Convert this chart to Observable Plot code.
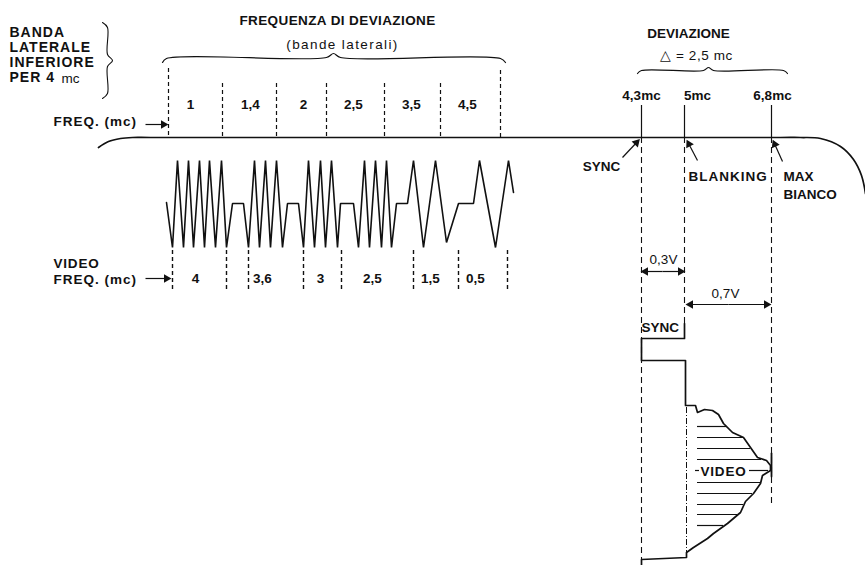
<!DOCTYPE html>
<html>
<head>
<meta charset="utf-8">
<script src="https://cdn.jsdelivr.net/npm/d3@7"></script>
<script src="https://cdn.jsdelivr.net/npm/@observablehq/plot@0.6"></script>
<style>
  html, body { margin: 0; padding: 0; background: #fff; }
  svg { display: block; }
</style>
</head>
<body>
<div id="chart"></div>
<script>
// ---------- data (diagram units: picture pixels, y downward) ----------
const upperFreqLabels = ["1", "1,4", "2", "2,5", "3,5", "4,5"];
const upperFreqLabelX = [190, 250, 303, 353, 411, 467];
const upperDashX = [168, 222, 276, 326, 384, 440, 500];
const upperDashTop = [68, 83, 83, 83, 83, 83, 70];

const videoFreqLabels = ["4", "3,6", "3", "2,5", "1,5", "0,5"];
const videoFreqLabelX = [195, 262, 320, 372, 430, 475];
const lowerDashX = [172, 226, 248, 303, 341, 413, 458, 507];

// modulated waveform vertices [x, y]
const waveform = [
  [166,202],[172,247],[177,160],[183,247],[188,160],[193,247],[199,160],[204,247],[209,160],[215,247],[221,160],[226,247],
  [232,203],[243,203],
  [248,247],[254,160],[259,247],[265,160],[270,247],[276,160],[282,247],
  [287,203],[298,203],
  [303,247],[308,160],[314,247],[320,160],[325,247],[331,160],[337,247],
  [340,203],[353,203],
  [358,247],[364,160],[369,247],[375,160],[381,247],[386,160],[391,247],
  [396,203],[407,203],
  [413,160],[423,247],[435,160],[446,242],
  [458,203],[473,203],
  [479,160],[495,247],[508,160],[513,192]
];

// carrier baseline with curved ends
const baseline = [[98,147],[108,141],[120,138],[132,137],[150,137],[780,137],[800,137],[820,138],[840,146],[853,159],[861,175],[865,193]];

// deviation frequencies (mc) and their positions
const devLabels = ["4,3mc", "5mc", "6,8mc"];
const devLabelX = [641, 697, 772];
const devLineX = [641, 684, 771];
const devDashBottom = [559, 323, 505];

// composite video signal outline
const signal = [
  [684,323],[684,338],[641,338],[641,360],[685,360],[685,405],[695,405],[697,412],[704,409],[712,410],[718,414],
  [723,423],[732,432],[743,437],[750,447],[757,457],[766,460],[770,465],
  [770,470],[762,475],[760,483],[753,493],[745,501],[740,512],[727,523],[713,533],[707,538],[693,547],[686,552],
  [686,557],[641,559],[641,565]
];
const whiteTick = [[771,453],[771,476]];
const hatchY = [426, 437, 448, 459, 482, 493, 504, 514, 525];
const hatchEnd = [727, 744, 750, 761, 760, 752, 743, 737, 723];

// braces
const braceFreq = [[162,62],[166,58],[326,57],[333,53],[340,57],[500,58],[505,62]];
const braceDev = [[637,73],[641,70],[703,70],[708,67],[713,70],[783,70],[787,73]];
const braceLeft = [[102,22],[107,27],[107,54],[112,60],[107,66],[107,93],[102,98]];

// arrows
const arrows = [
  {x1:145, y1:124, x2:166, y2:124},
  {x1:145, y1:278, x2:169, y2:278},
  {x1:622, y1:157, x2:638, y2:140},
  {x1:697, y1:160, x2:687, y2:141},
  {x1:782, y1:161, x2:773, y2:141},
  {x1:662, y1:271, x2:642, y2:271},
  {x1:662, y1:271, x2:683, y2:271},
  {x1:728, y1:304, x2:687, y2:304},
  {x1:728, y1:304, x2:769, y2:304}
];

// texts
const leftBlock = [
  {t:"BANDA", y:32}, {t:"LATERALE", y:47}, {t:"INFERIORE", y:62}, {t:"PER 4", y:77}
];
const boldLeftTexts = [
  {t:"FREQ. (mc)", x:53, y:121}, {t:"VIDEO", x:53, y:263}, {t:"FREQ. (mc)", x:53, y:279},
  {t:"BLANKING", x:688, y:176}, {t:"MAX", x:783, y:176}, {t:"BIANCO", x:783, y:194},
  {t:"SYNC", x:641, y:327}
];
const boldCenterTexts = [
  {t:"FREQUENZA DI DEVIAZIONE", x:337, y:20, s:13.5},
  {t:"DEVIAZIONE", x:688, y:33, s:13.5},
  {t:"SYNC", x:601, y:166, s:13},
  {t:"VIDEO", x:723, y:471, s:13}
];
const plainCenterTexts = [
  {t:"(bande laterali)", x:342, y:44},
  {t:"\u25B3 = 2,5 mc", x:696, y:55},
  {t:"0,3V", x:663, y:259},
  {t:"0,7V", x:725, y:293}
];
const spacedTexts = {"BANDA": 1, "LATERALE": 1, "INFERIORE": 1, "PER 4": 1, "FREQ. (mc)": 1, "VIDEO": 0.8,
  "BLANKING": 1, "FREQUENZA DI DEVIAZIONE": 0.4, "(bande laterali)": 1.4, "\u25B3 = 2,5 mc": 0.6};

// ---------- build ----------
const pts = arr => arr.map(([x, y]) => ({x, y}));
const upperLbl = upperFreqLabels.map((t, i) => ({t, x: upperFreqLabelX[i]}));
const videoLbl = videoFreqLabels.map((t, i) => ({t, x: videoFreqLabelX[i]}));
const devLbl = devLabels.map((t, i) => ({t, x: devLabelX[i]}));
const upperDash = upperDashX.map((x, i) => ({x, y1: upperDashTop[i], y2: 137}));
const devDash = devLineX.map((x, i) => ({x, y1: 137, y2: devDashBottom[i]}));
const hatches = hatchY.map((y, i) => ({y, x1: 697, x2: hatchEnd[i]}));
const heads = arrows.map(a => {
  const dx = a.x2 - a.x1, dy = a.y2 - a.y1, L = Math.hypot(dx, dy);
  return {x: a.x2 - 3 * dx / L, y: a.y2 - 3 * dy / L, rot: Math.atan2(dx, -dy) * 180 / Math.PI};
});
const font = "'Liberation Sans', Arial, Helvetica, sans-serif";
const ink = "#111";

const chart = Plot.plot({
  width: 865,
  height: 565,
  margin: 0,
  x: {domain: [0, 865], axis: null},
  y: {domain: [565, 0], axis: null},
  style: {background: "white", fontFamily: font, color: ink},
  marks: [
    Plot.line(pts(baseline), {x: "x", y: "y", curve: "catmull-rom", stroke: ink, strokeWidth: 1.7}),
    Plot.line(pts(waveform), {x: "x", y: "y", stroke: ink, strokeWidth: 1.6, strokeLinejoin: "miter"}),
    Plot.ruleX(upperDash, {x: "x", y1: "y1", y2: "y2", stroke: ink, strokeWidth: 1.2, strokeDasharray: "4,3"}),
    Plot.ruleX(lowerDashX, {x: d => d, y1: 250, y2: 292, stroke: ink, strokeWidth: 1.4, strokeDasharray: "4,3"}),
    Plot.ruleX(devLineX, {x: d => d, y1: 105, y2: 137, stroke: ink, strokeWidth: 1.2}),
    Plot.ruleX(devDash, {x: "x", y1: "y1", y2: "y2", stroke: ink, strokeWidth: 1.1, strokeDasharray: "6,4"}),
    Plot.ruleX([686], {x: d => d, y1: 407, y2: 552, stroke: ink, strokeWidth: 1, strokeDasharray: "6,2,1,2"}),
    Plot.ruleY(hatches, {y: "y", x1: "x1", x2: "x2", stroke: ink, strokeWidth: 1.2}),
    Plot.ruleY([470], {y: d => d, x1: 695, x2: 699, stroke: ink, strokeWidth: 1.2}),
    Plot.ruleY([470], {y: d => d, x1: 749, x2: 768, stroke: ink, strokeWidth: 1.2}),
    Plot.line(pts(signal), {x: "x", y: "y", stroke: ink, strokeWidth: 1.7, curve: "linear"}),
    Plot.line(pts(whiteTick), {x: "x", y: "y", stroke: ink, strokeWidth: 1.8}),
    Plot.line(pts(braceFreq), {x: "x", y: "y", curve: "catmull-rom", stroke: ink, strokeWidth: 1.2}),
    Plot.line(pts(braceDev), {x: "x", y: "y", curve: "catmull-rom", stroke: ink, strokeWidth: 1.2}),
    Plot.line(pts(braceLeft), {x: "x", y: "y", curve: "catmull-rom", stroke: ink, strokeWidth: 1.1}),
    Plot.link(arrows, {x1: "x1", y1: "y1", x2: "x2", y2: "y2", stroke: ink, strokeWidth: 1.2}),
    Plot.dot(heads, {x: "x", y: "y", symbol: "triangle", r: 3.2, rotate: "rot", fill: ink, stroke: "none"}),
    Plot.text(upperLbl, {x: "x", y: 104, text: "t", fontSize: 13.5, fontWeight: "bold", fill: ink}),
    Plot.text(videoLbl, {x: "x", y: 278, text: "t", fontSize: 13.5, fontWeight: "bold", fill: ink}),
    Plot.text(devLbl, {x: "x", y: 95, text: "t", fontSize: 13.5, fontWeight: "bold", fill: ink}),
    Plot.text(leftBlock, {x: 9, y: "y", text: "t", textAnchor: "start", fontSize: 14, fontWeight: "bold", fill: ink}),
    Plot.text(["mc"], {x: 61, y: 78, text: d => d, textAnchor: "start", fontSize: 13.5, fill: ink}),
    Plot.text(boldLeftTexts, {x: "x", y: "y", text: "t", textAnchor: "start", fontSize: 13.5, fontWeight: "bold", fill: ink}),
    Plot.text(boldCenterTexts, {x: "x", y: "y", text: "t", fontSize: 13.5, fontWeight: "bold", fill: ink}),
    Plot.text(plainCenterTexts, {x: "x", y: "y", text: "t", fontSize: 13.5, fill: ink})
  ]
});
// widen the lettering of the hand-set captions
d3.select(chart).selectAll("text").each(function() {
  const s = spacedTexts[this.textContent];
  if (s) this.setAttribute("letter-spacing", s);
});
document.getElementById("chart").appendChild(chart);
</script>
</body>
</html>
